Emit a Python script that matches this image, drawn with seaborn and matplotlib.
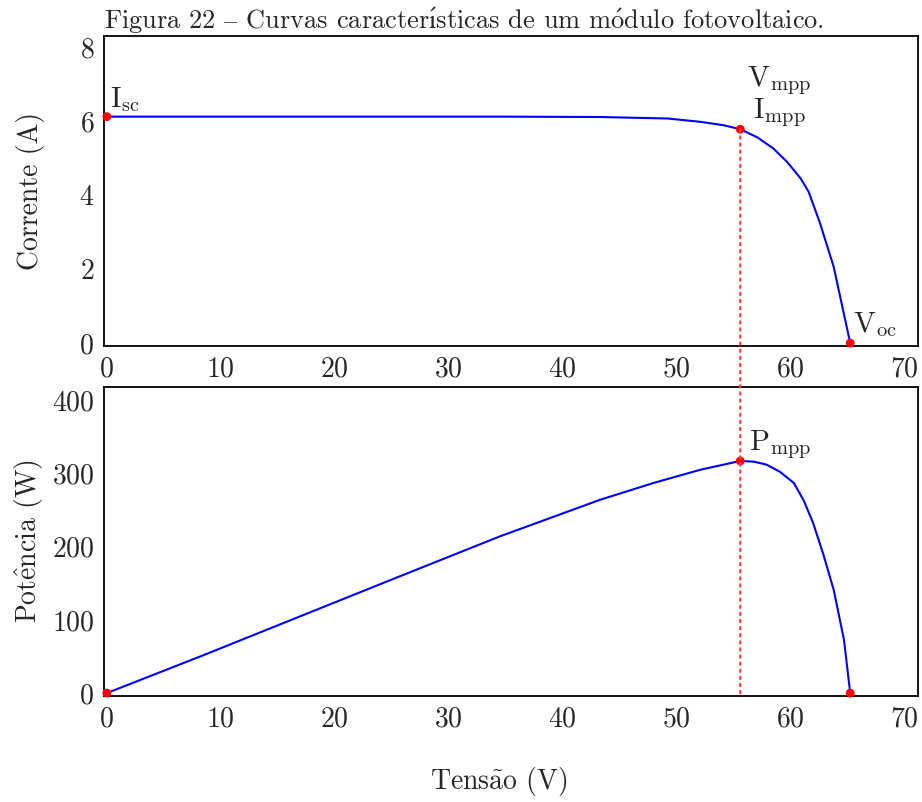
import matplotlib
matplotlib.use("Agg")
import matplotlib.pyplot as plt
from matplotlib.patches import ConnectionPatch
import seaborn as sns
import pandas as pd

# I-V curve
tensao_iv = [0, 20, 35, 43.3, 49.2, 52.1, 54.1, 55.6, 57.1, 58.5, 59.7, 60.9,
             61.6, 62.6, 63.8, 65.25]
corrente = [6.12, 6.12, 6.12, 6.11, 6.07, 5.98, 5.89, 5.78, 5.56, 5.26, 4.90,
            4.45, 4.09, 3.24, 2.06, 0.0]

# P-V curve
tensao_pv = [0, 8.2, 17.0, 25.8, 34.5, 43.3, 48.0, 52.1, 55.6, 56.8, 57.9,
             59.1, 60.3, 61.2, 62.0, 62.9, 63.8, 64.7, 65.25]
potencia = [0, 50, 105, 160, 214, 264, 287, 305, 317, 316, 312, 302, 287,
            262, 232, 189, 141, 73, 0]

# key points
v_mpp, i_mpp, p_mpp = 55.6, 5.78, 317
i_sc, v_oc = 6.12, 65.25

xticks = [0, 10, 20, 30, 40, 50, 60, 70]
yticks_i = [0, 2, 4, 6, 8]
yticks_p = [0, 100, 200, 300, 400]

sns.set_style("white")
plt.rcParams["font.family"] = ["cmr10", "DejaVu Serif"]
plt.rcParams["mathtext.fontset"] = "cm"
plt.rcParams["axes.formatter.use_mathtext"] = True

W, H = 922, 802
fig = plt.figure(figsize=(W / 100, H / 100), dpi=100)
ax1 = fig.add_axes([104 / W, 1 - 346 / H, 814 / W, 310 / H])
ax2 = fig.add_axes([104 / W, 1 - 696 / H, 814 / W, 309 / H])

iv = pd.DataFrame({"V": tensao_iv, "I": corrente})
pv = pd.DataFrame({"V": tensao_pv, "P": potencia})

sns.lineplot(data=iv, x="V", y="I", sort=False, estimator=None,
             color="#0000ff", lw=1.5, ax=ax1)
sns.lineplot(data=pv, x="V", y="P", sort=False, estimator=None,
             color="#0000ff", lw=1.5, ax=ax2)

pts1 = pd.DataFrame({"V": [0, v_mpp, v_oc], "I": [i_sc, i_mpp, 0]})
pts2 = pd.DataFrame({"V": [0, v_mpp, v_oc], "P": [0, p_mpp, 0]})
sns.scatterplot(data=pts1, x="V", y="I", color="#ff0000", s=40,
                edgecolor="none", zorder=5, clip_on=False, ax=ax1)
sns.scatterplot(data=pts2, x="V", y="P", color="#ff0000", s=40,
                edgecolor="none", zorder=5, clip_on=False, ax=ax2)

ax1.set_xlim(-0.25, 71.2)
ax2.set_xlim(-0.25, 71.2)
ax1.set_ylim(-0.08, 8.3)
ax2.set_ylim(-4, 418)

for ax, yt in ((ax1, yticks_i), (ax2, yticks_p)):
    ax.set_xticks(xticks)
    ax.set_yticks(yt)
    ax.tick_params(length=0, labelsize=20, pad=7)
    ax.set_xlabel("")
    ax.set_ylabel("")
    for s in ax.spines.values():
        s.set_color("black")
        s.set_linewidth(1.3)

ax1.set_ylabel("Corrente (A)", fontsize=20)
ax2.set_ylabel(r"Pot$\mathrm{\hat{e}}$ncia (W)", fontsize=20)
ax1.yaxis.set_label_coords(-(104 - 45) / 814, 0.5)
ax2.yaxis.set_label_coords(-(104 - 45) / 814, 0.5)
fig.text(499 / W, 1 - 782 / H, r"Tens$\mathrm{\tilde{a}}$o (V)", fontsize=20,
         ha="center", va="center")
ax1.set_title(r"Figura 22 $\mathrm{–}$ Curvas caracter$\mathrm{\acute{ı}}$sticas de um "
              r"m$\mathrm{\acute{o}}$dulo fotovoltaico.",
              loc="left", fontsize=19, pad=5)

# dotted mpp line across both panels
con = ConnectionPatch(xyA=(v_mpp, i_mpp), coordsA=ax1.transData,
                      xyB=(v_mpp, -4), coordsB=ax2.transData,
                      color="#ff3b3b", lw=1.6, linestyle=(0, (1, 2.2)), zorder=3)
fig.add_artist(con)

ann = dict(fontsize=21, va="baseline", ha="left", textcoords="offset points")
ax1.annotate(r"$\mathrm{I}_{\mathrm{sc}}$", xy=(0, i_sc), xytext=(2, 7), **ann)
ax1.annotate(r"$\mathrm{V}_{\mathrm{mpp}}$", xy=(v_mpp, i_mpp), xytext=(5, 31), **ann)
ax1.annotate(r"$\mathrm{I}_{\mathrm{mpp}}$", xy=(v_mpp, i_mpp), xytext=(9, 8), **ann)
ax1.annotate(r"$\mathrm{V}_{\mathrm{oc}}$", xy=(v_oc, 0), xytext=(2, 8), **ann)
ax2.annotate(r"$\mathrm{P}_{\mathrm{mpp}}$", xy=(v_mpp, p_mpp), xytext=(6, 8), **ann)

fig.savefig("out.png", dpi=100)
